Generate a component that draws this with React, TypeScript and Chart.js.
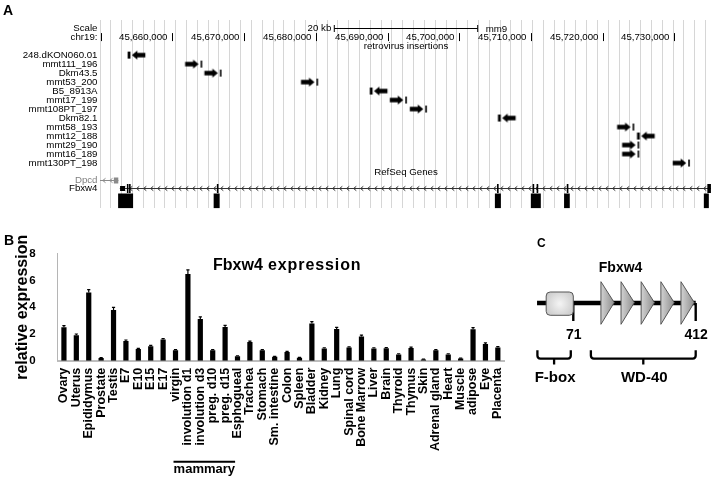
import React, { useEffect, useRef } from "react";
import { Chart, registerables } from "chart.js";

Chart.register(...registerables);

const FONT = '"Liberation Sans", Arial, Helvetica, sans-serif';

/* ================= Panel A : genome browser (mm9) ================= */
const VIEW_START = 45649900;
const VIEW_END = 45735250;
const COORD_TICKS = [45650000, 45660000, 45670000, 45680000, 45690000, 45700000, 45710000, 45720000, 45730000];
const COORD_TICK_LABELS = ["", "45,660,000", "45,670,000", "45,680,000", "45,690,000", "45,700,000", "45,710,000", "45,720,000", "45,730,000"];
const SCALE_BAR_BP = 20000;
const SCALE_BAR_LABEL = "20 kb";
const ASSEMBLY = "mm9";
const CHROM_LABEL = "chr19:";
const INSERTION_TRACK = "retrovirus insertions";
const GENE_TRACK = "RefSeq Genes";

const INSERTION_IDS = ["248.dKON060.01", "mmt111_196", "Dkm43.5", "mmt53_200", "B5_8913A", "mmt17_199", "mmt108PT_197", "Dkm82.1", "mmt58_193", "mmt12_188", "mmt29_190", "mmt16_189", "mmt130PT_198"];
const INSERTION_SITES = [45653950, 45664040, 45666730, 45680200, 45687720, 45692590, 45695380, 45705590, 45724290, 45724990, 45724990, 45724990, 45732050];
const INSERTION_STRANDS = ["-", "+", "+", "+", "-", "+", "+", "-", "+", "-", "+", "+", "+"];

const DPCD_SPAN = [45649900, 45652466];
const DPCD_EXONS = [[45651830, 45652450]];
const FBXW4_SPAN = [45652662, 45735100];
const FBXW4_EXONS = [[45652700, 45653400], [45653650, 45653800], [45653950, 45654100], [45666200, 45666330], [45705270, 45705400], [45710230, 45710370], [45710790, 45710930], [45715000, 45715150], [45734600, 45735100]];
const FBXW4_EXON_BLOCKS = [[45652426, 45654514], [45665750, 45666586], [45704971, 45705807], [45709984, 45711376], [45714620, 45715414], [45734112, 45734808]];

/* ================= Panel B : expression ================= */
const TISSUES = ["Ovary", "Uterus", "Epididymus", "Prostate", "Testis", "E7", "E10", "E15", "E17", "virgin", "involution d1", "involution d3", "preg. d10", "preg. d15", "Esphogueal", "Trachea", "Stomach", "Sm. intestine", "Colon", "Spleen", "Bladder", "Kidney", "Lung", "Spinal cord", "Bone Marrow", "Liver", "Brain", "Thyroid", "Thymus", "Skin", "Adrenal gland", "Heart", "Muscle", "adipose", "Eye", "Placenta"];
const EXPRESSION = [2.5, 1.9, 5.1, 0.2, 3.8, 1.47, 0.87, 1.09, 1.58, 0.78, 6.49, 3.13, 0.78, 2.53, 0.33, 1.4, 0.78, 0.29, 0.65, 0.22, 2.78, 0.91, 2.38, 0.98, 1.82, 0.91, 0.93, 0.47, 0.96, 0.09, 0.78, 0.47, 0.16, 2.36, 1.25, 0.98];
const EXPRESSION_ERR = [0.12, 0.1, 0.22, 0.04, 0.2, 0.08, 0.05, 0.06, 0.08, 0.05, 0.32, 0.15, 0.05, 0.12, 0.04, 0.07, 0.05, 0.04, 0.05, 0.03, 0.15, 0.06, 0.12, 0.06, 0.1, 0.06, 0.06, 0.05, 0.06, 0.03, 0.05, 0.05, 0.03, 0.12, 0.08, 0.07];
const Y_TICKS = [0, 2, 4, 6, 8];
const Y_TITLE = "relative expression";
const TITLE_GENE = "Fbxw4";
const TITLE_REST = "expression";
const MAMMARY_LABEL = "mammary";
const MAMMARY_FIRST = 9;
const MAMMARY_LAST = 13;

/* ================= Panel C : protein domains ================= */
const PROTEIN_NAME = "Fbxw4";
const PROTEIN_LENGTH = 412;
const BACKBONE_START = -30;
const FBOX = [1, 71];
const WD40_REPEATS = [[148, 185], [204, 241], [260, 297], [315, 352], [371, 408]];
const MARKED_RESIDUES = [71, 412];
const BRACKET_LABELS = ["F-box", "WD-40"];
const BRACKET_FROM = [-29, 120];
const BRACKET_TO = [64, 412];

/* ---------- styles ---------- */
const GRID_STEP_BP = 1508;
const LABEL_RIGHT = 97.5;
const ROW_SCALE = -3;
const ROW_CHROM = -2;
const ROW_TRACK_TITLE = -1;
const ROW_GENE_TITLE = 13;
const ROW_DPCD = 13.9;
const ROW_FBXW4 = 14.8;
const ROW_BLOCKS = 16.2;

function makeArrowImage(strand: string): HTMLCanvasElement {
  const c = document.createElement("canvas");
  c.width = 40;
  c.height = 11;
  const ctx = c.getContext("2d")!;
  ctx.fillStyle = "#000";
  const cx = 20;
  const cy = 5.5;
  const dir = strand === "+" ? 1 : -1;
  if (strand === "+") {
    ctx.fillRect(cx - 0.8, cy - 3.5, 1.6, 7);
  } else {
    ctx.fillRect(cx - 1.4, cy - 3.5, 2.8, 7);
  }
  const tip = cx - dir * 2.8;
  const tail = tip - dir * 13.5;
  const headBase = tip - dir * 5.5;
  ctx.beginPath();
  ctx.moveTo(tail, cy - 2.3);
  ctx.lineTo(headBase, cy - 2.3);
  ctx.lineTo(headBase, cy - 4.6);
  ctx.lineTo(tip, cy);
  ctx.lineTo(headBase, cy + 4.6);
  ctx.lineTo(headBase, cy + 2.3);
  ctx.lineTo(tail, cy + 2.3);
  ctx.closePath();
  ctx.fill();
  return c;
}

function drawIntronLine(ctx: CanvasRenderingContext2D, x0: number, x1: number, yy: number, color: string) {
  ctx.strokeStyle = color;
  ctx.lineWidth = 1;
  ctx.beginPath();
  ctx.moveTo(x0, yy);
  ctx.lineTo(x1, yy);
  ctx.stroke();
  for (let xx = x0 + 4; xx < x1 - 2; xx += 7) {
    ctx.beginPath();
    ctx.moveTo(xx + 1.5, yy - 2.2);
    ctx.lineTo(xx - 1.2, yy);
    ctx.lineTo(xx + 1.5, yy + 2.2);
    ctx.stroke();
  }
}

const browserPlugin = {
  id: "browser",
  afterDraw(chart: any) {
    const { ctx, chartArea: ca, scales } = chart;
    const x = scales.x;
    const y = scales.y;
    const px = (v: number) => x.getPixelForValue(v);
    const py = (r: number) => y.getPixelForValue(r);
    ctx.save();
    ctx.textBaseline = "middle";
    ctx.fillStyle = "#000";
    ctx.font = `bold 14px ${FONT}`;
    ctx.textAlign = "left";
    ctx.fillText("A", 3, 11.5);

    ctx.font = `9.7px ${FONT}`;
    ctx.textAlign = "right";
    ctx.fillText("Scale", LABEL_RIGHT, py(ROW_SCALE));
    ctx.fillText(CHROM_LABEL, LABEL_RIGHT, py(ROW_CHROM));
    INSERTION_IDS.forEach((id, i) => ctx.fillText(id, LABEL_RIGHT, py(i)));
    ctx.fillStyle = "#808080";
    ctx.fillText("Dpcd", LABEL_RIGHT, py(ROW_DPCD));
    ctx.fillStyle = "#000";
    ctx.fillText("Fbxw4", LABEL_RIGHT, py(ROW_FBXW4));

    // scale bar
    const mid = (VIEW_START + VIEW_END) / 2;
    const sb0 = px(mid - SCALE_BAR_BP / 2);
    const sb1 = px(mid + SCALE_BAR_BP / 2);
    const ys = Math.round(py(ROW_SCALE)) + 0.5;
    ctx.strokeStyle = "#000";
    ctx.lineWidth = 1;
    ctx.beginPath();
    ctx.moveTo(sb0, ys);
    ctx.lineTo(sb1, ys);
    ctx.moveTo(sb0, ys - 3.5);
    ctx.lineTo(sb0, ys + 3.5);
    ctx.moveTo(sb1, ys - 3.5);
    ctx.lineTo(sb1, ys + 3.5);
    ctx.stroke();
    ctx.textAlign = "right";
    ctx.fillText(SCALE_BAR_LABEL, sb0 - 3, ys);
    ctx.textAlign = "left";
    ctx.fillText(ASSEMBLY, sb1 + 8, ys + 1);

    // coordinate ticks
    const yc = py(ROW_CHROM);
    COORD_TICKS.forEach((t, i) => {
      const xx = Math.round(px(t)) + 0.5;
      ctx.beginPath();
      ctx.moveTo(xx, yc - 4);
      ctx.lineTo(xx, yc + 4);
      ctx.stroke();
      if (COORD_TICK_LABELS[i]) {
        ctx.textAlign = "right";
        ctx.fillText(COORD_TICK_LABELS[i], xx - 5, yc);
      }
    });

    // track titles
    const midX = (ca.left + ca.right) / 2;
    ctx.textAlign = "center";
    ctx.fillText(INSERTION_TRACK, midX, py(ROW_TRACK_TITLE));
    ctx.fillText(GENE_TRACK, midX, py(ROW_GENE_TITLE));

    // Dpcd gene
    const yd = Math.round(py(ROW_DPCD)) + 0.5;
    drawIntronLine(ctx, px(DPCD_SPAN[0]), px(DPCD_SPAN[1]), yd, "#8a8a8a");
    ctx.fillStyle = "#8a8a8a";
    DPCD_EXONS.forEach(([s, e]) => ctx.fillRect(px(s), yd - 3, Math.max(1.5, px(e) - px(s)), 6));

    // Fbxw4 gene
    const yf = Math.round(py(ROW_FBXW4)) + 0.5;
    drawIntronLine(ctx, px(FBXW4_SPAN[0]), px(FBXW4_SPAN[1]), yf, "#333");
    ctx.fillStyle = "#000";
    FBXW4_EXONS.forEach(([s, e], i) => {
      const h = i === 0 ? 5 : 9;
      ctx.fillRect(px(s), yf - h / 2, Math.max(1.6, px(e) - px(s)), h);
    });

    // exon blocks row
    const yb = py(ROW_BLOCKS);
    FBXW4_EXON_BLOCKS.forEach(([s, e]) => ctx.fillRect(px(s), yb - 7.3, px(e) - px(s), 14.6));
    ctx.restore();
  },
};

function configA(): any {
  const imgPlus = makeArrowImage("+");
  const imgMinus = makeArrowImage("-");
  const gridValues: number[] = [];
  for (let v = VIEW_START; v <= VIEW_END; v += GRID_STEP_BP) gridValues.push(v);
  return {
    type: "scatter",
    data: {
      datasets: [
        {
          data: INSERTION_SITES.map((s, i) => ({ x: s, y: i })),
          pointStyle: INSERTION_STRANDS.map((s) => (s === "+" ? imgPlus : imgMinus)),
          pointRadius: 4,
          pointHoverRadius: 4,
        },
      ],
    },
    options: {
      responsive: false,
      animation: false,
      events: [],
      layout: { padding: { left: 100, right: 4, top: 20, bottom: 7 } },
      plugins: { legend: { display: false }, tooltip: { enabled: false } },
      scales: {
        x: {
          type: "linear",
          min: VIEW_START,
          max: VIEW_END,
          ticks: { display: false },
          grid: { color: "#d6d6d6", drawTicks: false, lineWidth: 1 },
          border: { display: false },
          afterBuildTicks: (s: any) => {
            s.ticks = gridValues.map((v) => ({ value: v }));
          },
          afterFit: (s: any) => {
            s.height = 0;
          },
        },
        y: { type: "linear", min: -3.9, max: 17, reverse: true, display: false },
      },
    },
    plugins: [browserPlugin],
  };
}

/* ---------- Panel B ---------- */
const expressionPlugin = {
  id: "expressionExtras",
  afterDatasetsDraw(chart: any) {
    const { ctx, scales } = chart;
    const x = scales.x;
    const y = scales.y;
    ctx.save();
    ctx.strokeStyle = "#000";
    ctx.lineWidth = 1.2;
    EXPRESSION.forEach((v, i) => {
      const cx = x.getPixelForValue(i);
      const y0 = y.getPixelForValue(v);
      const y1 = y.getPixelForValue(v + EXPRESSION_ERR[i]);
      ctx.beginPath();
      ctx.moveTo(cx, y0);
      ctx.lineTo(cx, y1);
      ctx.moveTo(cx - 1.6, y1);
      ctx.lineTo(cx + 1.6, y1);
      ctx.stroke();
    });
    ctx.restore();
  },
  afterDraw(chart: any) {
    const { ctx, scales } = chart;
    const x = scales.x;
    ctx.save();
    ctx.fillStyle = "#000";
    ctx.textBaseline = "middle";
    ctx.textAlign = "left";
    ctx.font = `bold 14px ${FONT}`;
    ctx.fillText("B", 4, 16);

    ctx.textBaseline = "alphabetic";
    ctx.font = `bold 16px ${FONT}`;
    ctx.fillText(TITLE_GENE, 213, 45);
    try {
      (ctx as any).letterSpacing = "0.9px";
    } catch (e) {}
    ctx.fillText(TITLE_REST, 268, 45);
    try {
      (ctx as any).letterSpacing = "0px";
    } catch (e) {}

    const x0 = x.getPixelForValue(MAMMARY_FIRST) - 2;
    const x1 = x.getPixelForValue(MAMMARY_LAST) + 10;
    ctx.strokeStyle = "#000";
    ctx.lineWidth = 2;
    ctx.beginPath();
    ctx.moveTo(x0, 236.7);
    ctx.lineTo(x1, 236.7);
    ctx.stroke();
    ctx.font = `bold 13px ${FONT}`;
    ctx.textAlign = "center";
    ctx.fillText(MAMMARY_LABEL, (x0 + x1) / 2, 248.3);
    ctx.restore();
  },
};

function configB(): any {
  return {
    type: "bar",
    data: {
      labels: TISSUES,
      datasets: [
        {
          data: EXPRESSION,
          backgroundColor: "#000",
          borderWidth: 0,
          barPercentage: 0.42,
          categoryPercentage: 1,
        },
      ],
    },
    options: {
      responsive: false,
      animation: false,
      events: [],
      layout: { padding: { top: 14.7, right: 11.7, left: 0, bottom: 0 } },
      plugins: { legend: { display: false }, tooltip: { enabled: false }, title: { display: false } },
      scales: {
        x: {
          grid: { display: false, drawTicks: false },
          border: { display: true, color: "#bdbdbd", width: 2 },
          ticks: {
            autoSkip: false,
            minRotation: 90,
            maxRotation: 90,
            padding: 7,
            color: "#000",
            font: { family: FONT, size: 12.5, weight: "bold" },
          },
          afterFit: (s: any) => {
            s.height = 119.3;
          },
        },
        y: {
          min: 0,
          max: 8,
          grid: { display: false, drawTicks: false },
          border: { display: true, color: "#b5b5b5", width: 1 },
          ticks: { padding: 22, color: "#000", font: { family: FONT, size: 11.5, weight: "bold" } },
          afterBuildTicks: (s: any) => {
            s.ticks = Y_TICKS.map((v) => ({ value: v }));
          },
          title: {
            display: true,
            text: Y_TITLE,
            color: "#000",
            font: { family: FONT, size: 16, weight: "bold" },
            padding: { top: 12.9, bottom: 0 },
          },
          afterFit: (s: any) => {
            s.width = 57.74;
          },
        },
      },
    },
    plugins: [expressionPlugin],
  };
}

/* ---------- Panel C ---------- */
const domainPlugin = {
  id: "domains",
  afterDraw(chart: any) {
    const { ctx, scales } = chart;
    const x = scales.x;
    const y = scales.y;
    const px = (v: number) => x.getPixelForValue(v);
    const bb = y.getPixelForValue(0);
    ctx.save();

    ctx.fillStyle = "#000";
    ctx.textBaseline = "alphabetic";
    ctx.textAlign = "left";
    ctx.font = `bold 12px ${FONT}`;
    ctx.fillText("C", 17, 29.3);
    ctx.textAlign = "center";
    ctx.font = `bold 14px ${FONT}`;
    ctx.fillText(PROTEIN_NAME, (px(WD40_REPEATS[0][0]) + px(WD40_REPEATS[WD40_REPEATS.length - 1][1])) / 2 - 27, bb - 31);

    // backbone
    ctx.strokeStyle = "#000";
    ctx.lineWidth = 4.7;
    ctx.beginPath();
    ctx.moveTo(px(BACKBONE_START), bb);
    ctx.lineTo(px(PROTEIN_LENGTH), bb);
    ctx.stroke();

    // residue ticks
    ctx.lineWidth = 2.4;
    MARKED_RESIDUES.forEach((r) => {
      ctx.beginPath();
      ctx.moveTo(px(r), bb);
      ctx.lineTo(px(r), bb + 18);
      ctx.stroke();
    });
    ctx.font = `bold 14px ${FONT}`;
    ctx.textAlign = "center";
    MARKED_RESIDUES.forEach((r) => ctx.fillText(String(r), px(r) + 0.5, bb + 35.6));

    // WD40 triangles
    WD40_REPEATS.forEach(([s, e]) => {
      const x0 = px(s);
      const x1 = px(e);
      const g = ctx.createLinearGradient(x0, 0, x1, 0);
      g.addColorStop(0, "#d2d2d2");
      g.addColorStop(1, "#8e8e8e");
      ctx.beginPath();
      ctx.moveTo(x0, bb - 21.3);
      ctx.lineTo(x1, bb - 0.5);
      ctx.lineTo(x0, bb + 21.3);
      ctx.closePath();
      ctx.fillStyle = g;
      ctx.fill();
      ctx.strokeStyle = "#555";
      ctx.lineWidth = 1;
      ctx.stroke();
    });

    // F-box rounded box
    const fx0 = px(FBOX[0]) - 2;
    const fx1 = px(FBOX[1]);
    const ft = bb - 11;
    const fb = bb + 12.3;
    const r = 4;
    const rg = ctx.createRadialGradient((fx0 + fx1) / 2, (ft + fb) / 2, 1, (fx0 + fx1) / 2, (ft + fb) / 2, 17);
    rg.addColorStop(0, "#f2f2f2");
    rg.addColorStop(1, "#c6c6c6");
    ctx.beginPath();
    ctx.moveTo(fx0 + r, ft);
    ctx.lineTo(fx1 - r, ft);
    ctx.arcTo(fx1, ft, fx1, ft + r, r);
    ctx.lineTo(fx1, fb - r);
    ctx.arcTo(fx1, fb, fx1 - r, fb, r);
    ctx.lineTo(fx0 + r, fb);
    ctx.arcTo(fx0, fb, fx0, fb - r, r);
    ctx.lineTo(fx0, ft + r);
    ctx.arcTo(fx0, ft, fx0 + r, ft, r);
    ctx.closePath();
    ctx.fillStyle = rg;
    ctx.fill();
    ctx.strokeStyle = "#555";
    ctx.lineWidth = 1;
    ctx.stroke();

    // brackets
    ctx.strokeStyle = "#000";
    ctx.lineWidth = 2.3;
    ctx.lineJoin = "round";
    ctx.lineCap = "butt";
    const top = bb + 47.3;
    const hy = bb + 55.6;
    const stem = bb + 61.5;
    ctx.font = `bold 15px ${FONT}`;
    ctx.fillStyle = "#000";
    BRACKET_LABELS.forEach((label, i) => {
      const a = px(BRACKET_FROM[i]);
      const b = px(BRACKET_TO[i]);
      const c = (a + b) / 2;
      ctx.beginPath();
      ctx.moveTo(a, top);
      ctx.lineTo(a, hy - 3);
      ctx.quadraticCurveTo(a, hy, a + 3, hy);
      ctx.lineTo(b - 3, hy);
      ctx.quadraticCurveTo(b, hy, b, hy - 3);
      ctx.lineTo(b, top);
      ctx.moveTo(c, hy);
      ctx.lineTo(c, stem);
      ctx.stroke();
      ctx.textAlign = "center";
      ctx.fillText(label, c + 1, bb + 79);
    });
    ctx.restore();
  },
};

function configC(): any {
  return {
    type: "scatter",
    data: { datasets: [] },
    options: {
      responsive: false,
      animation: false,
      events: [],
      layout: { padding: 0 },
      plugins: { legend: { display: false }, tooltip: { enabled: false } },
      scales: {
        x: { type: "linear", min: -77.49, max: 471.34, display: false },
        y: { type: "linear", min: -1, max: 1, display: false },
      },
    },
    plugins: [domainPlugin],
  };
}

export default function App() {
  const refA = useRef<HTMLCanvasElement>(null);
  const refB = useRef<HTMLCanvasElement>(null);
  const refC = useRef<HTMLCanvasElement>(null);

  useEffect(() => {
    Chart.defaults.font.family = FONT;
    Chart.defaults.color = "#000";
    const a = new Chart(refA.current!, configA());
    const b = new Chart(refB.current!, configB());
    const c = new Chart(refC.current!, configC());
    return () => {
      a.destroy();
      b.destroy();
      c.destroy();
    };
  }, []);

  return (
    <div style={{ position: "absolute", left: 0, top: 0, width: 717, height: 480, background: "#fff", overflow: "hidden" }}>
      <canvas ref={refA} width={717} height={215} style={{ position: "absolute", left: 0, top: 0, width: 717, height: 215 }} />
      <canvas ref={refB} width={520} height={255} style={{ position: "absolute", left: 0, top: 225, width: 520, height: 255 }} />
      <canvas ref={refC} width={197} height={170} style={{ position: "absolute", left: 520, top: 218, width: 197, height: 170 }} />
    </div>
  );
}
